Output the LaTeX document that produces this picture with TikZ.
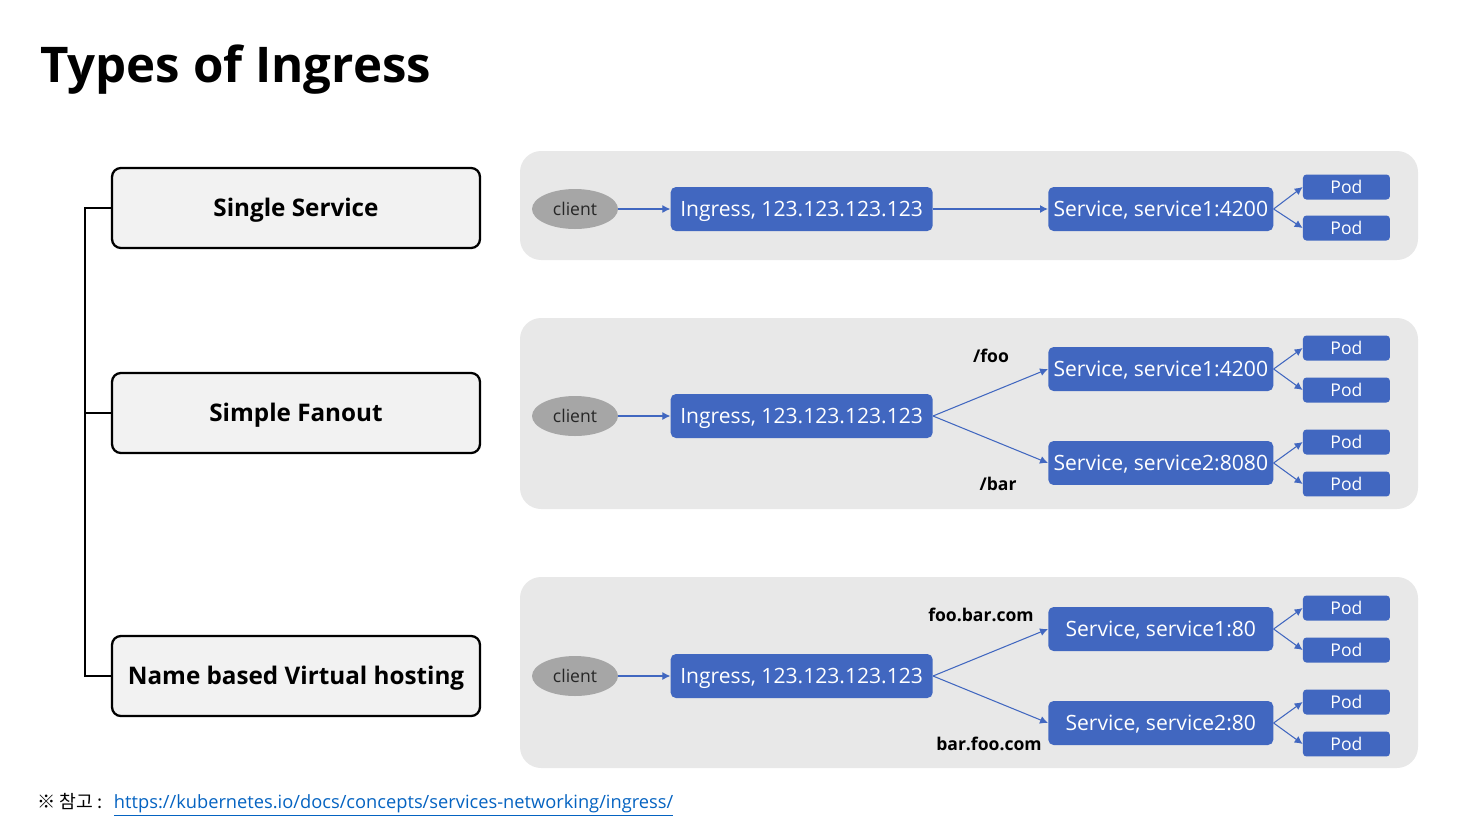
\documentclass[tikz,border=0pt]{standalone}
\usepackage{fontspec}
\setmainfont{Open Sans}
\newfontfamily\cjk{Noto Sans CJK KR}
\usetikzlibrary{arrows.meta,positioning,shapes.geometric}
\definecolor{k8blue}{RGB}{65,103,192}
\definecolor{panelgray}{RGB}{232,232,232}
\definecolor{boxgray}{RGB}{242,242,242}
\definecolor{clientgray}{RGB}{166,166,166}
\definecolor{clienttext}{RGB}{38,38,38}
\definecolor{linkblue}{RGB}{5,99,193}

\begin{document}
\begin{tikzpicture}[
  x=0.02cm, y=-0.02cm,
  >={Latex[length=4.5pt,width=4.5pt]},
  kind/.style={draw, line width=1.3pt, rounded corners=5pt, fill=boxgray, minimum width=7.36cm, minimum height=1.6cm, text height=10pt, text depth=0pt, font=\fontsize{13.8}{17}\selectfont\bfseries},
  panel/.style={fill=panelgray, rounded corners=12pt},
  client/.style={ellipse, fill=clientgray, minimum width=1.72cm, minimum height=0.8cm, inner sep=0pt, text height=7.2pt, text depth=0pt, text=clienttext, font=\fontsize{10}{12}\selectfont},
  ingress/.style={fill=k8blue, rounded corners=3pt, text=white, minimum width=5.24cm, minimum height=0.88cm, inner sep=1pt, text height=8.6pt, text depth=0pt, font=\fontsize{12}{14}\selectfont},
  svc/.style={ingress, minimum width=4.5cm},
  pod/.style={fill=k8blue, rounded corners=2pt, text=white, minimum width=1.74cm, minimum height=0.5cm, inner sep=0pt, text height=7.2pt, text depth=0pt, font=\fontsize{10}{12}\selectfont},
  route/.style={font=\fontsize{10}{12}\selectfont\bfseries},
  flow/.style={->, k8blue, line width=0.6pt},
  tree/.style={line width=1.3pt}
]
\useasboundingbox (0,0) rectangle (1458,826);

\node[anchor=base west, font=\fontsize{28}{34}\selectfont\bfseries] (title) at (34,82) {Types of Ingress};

% kinds of ingress
\node[kind] (single) at (296,208) {Single Service};
\node[kind] (fanout) at (296,413) {Simple Fanout};
\node[kind] (vhost) at (296,676) {Name based Virtual hosting};

\coordinate (trunk) at (85,413);
\draw[tree] (single.west) -- (single.west -| trunk) -- (vhost.west -| trunk) -- (vhost.west);
\draw[tree] (fanout.west) -- (fanout.west -| trunk);

% panels
\fill[panel] (520,151) rectangle (1418,260);
\fill[panel] (520,318) rectangle (1418,509);
\fill[panel] (520,577) rectangle (1418,768);

% single service
\node[client] (c1) at (575,209) {client};
\node[ingress, right=1.04cm of c1] (i1) {Ingress, 123.123.123.123};
\node[svc, right=2.3cm of i1] (s1) {Service, service1:4200};
\node[pod, right=0.58cm of s1, yshift=0.44cm] (p1a) {Pod};
\node[pod, right=0.58cm of s1, yshift=-0.38cm] (p1b) {Pod};

\draw[flow] (c1.east) -- (i1.west);
\draw[flow] (i1.east) -- (s1.west);
\draw[flow] (s1.east) -- (p1a.west);
\draw[flow] (s1.east) -- (p1b.west);

% simple fanout
\node[client] (c2) at (575,416) {client};
\node[ingress, right=1.04cm of c2] (i2) {Ingress, 123.123.123.123};
\node[svc, right=2.3cm of i2, yshift=0.94cm] (s2a) {Service, service1:4200};
\node[svc, right=2.3cm of i2, yshift=-0.94cm] (s2b) {Service, service2:8080};
\node[pod, right=0.58cm of s2a, yshift=0.42cm] (p2a) {Pod};
\node[pod, right=0.58cm of s2a, yshift=-0.42cm] (p2b) {Pod};
\node[pod, right=0.58cm of s2b, yshift=0.42cm] (p2c) {Pod};
\node[pod, right=0.58cm of s2b, yshift=-0.42cm] (p2d) {Pod};
\node[route] (foo) at (991,356) {/foo};
\node[route] (bar) at (998,484) {/bar};

\draw[flow] (c2.east) -- (i2.west);
\draw[flow] (i2.east) -- (s2a.west);
\draw[flow] (i2.east) -- (s2b.west);
\draw[flow] (s2a.east) -- (p2a.west);
\draw[flow] (s2a.east) -- (p2b.west);
\draw[flow] (s2b.east) -- (p2c.west);
\draw[flow] (s2b.east) -- (p2d.west);

% name based virtual hosting
\node[client] (c3) at (575,676) {client};
\node[ingress, right=1.04cm of c3] (i3) {Ingress, 123.123.123.123};
\node[svc, right=2.3cm of i3, yshift=0.94cm] (s3a) {Service, service1:80};
\node[svc, right=2.3cm of i3, yshift=-0.94cm] (s3b) {Service, service2:80};
\node[pod, right=0.58cm of s3a, yshift=0.42cm] (p3a) {Pod};
\node[pod, right=0.58cm of s3a, yshift=-0.42cm] (p3b) {Pod};
\node[pod, right=0.58cm of s3b, yshift=0.42cm] (p3c) {Pod};
\node[pod, right=0.58cm of s3b, yshift=-0.42cm] (p3d) {Pod};
\node[route] (foohost) at (981,615) {foo.bar.com};
\node[route] (barhost) at (989,744) {bar.foo.com};

\draw[flow] (c3.east) -- (i3.west);
\draw[flow] (i3.east) -- (s3a.west);
\draw[flow] (i3.east) -- (s3b.west);
\draw[flow] (s3a.east) -- (p3a.west);
\draw[flow] (s3a.east) -- (p3b.west);
\draw[flow] (s3b.east) -- (p3c.west);
\draw[flow] (s3b.east) -- (p3d.west);

% reference
\node[anchor=base west, font=\fontsize{10.4}{13}\selectfont] (note) at (31,808)
  {{\cjk ※ 참고 :}\hspace{3pt} \textcolor{linkblue}{\underline{https://kubernetes.io/docs/concepts/services-networking/ingress/}}};
\end{tikzpicture}
\end{document}
